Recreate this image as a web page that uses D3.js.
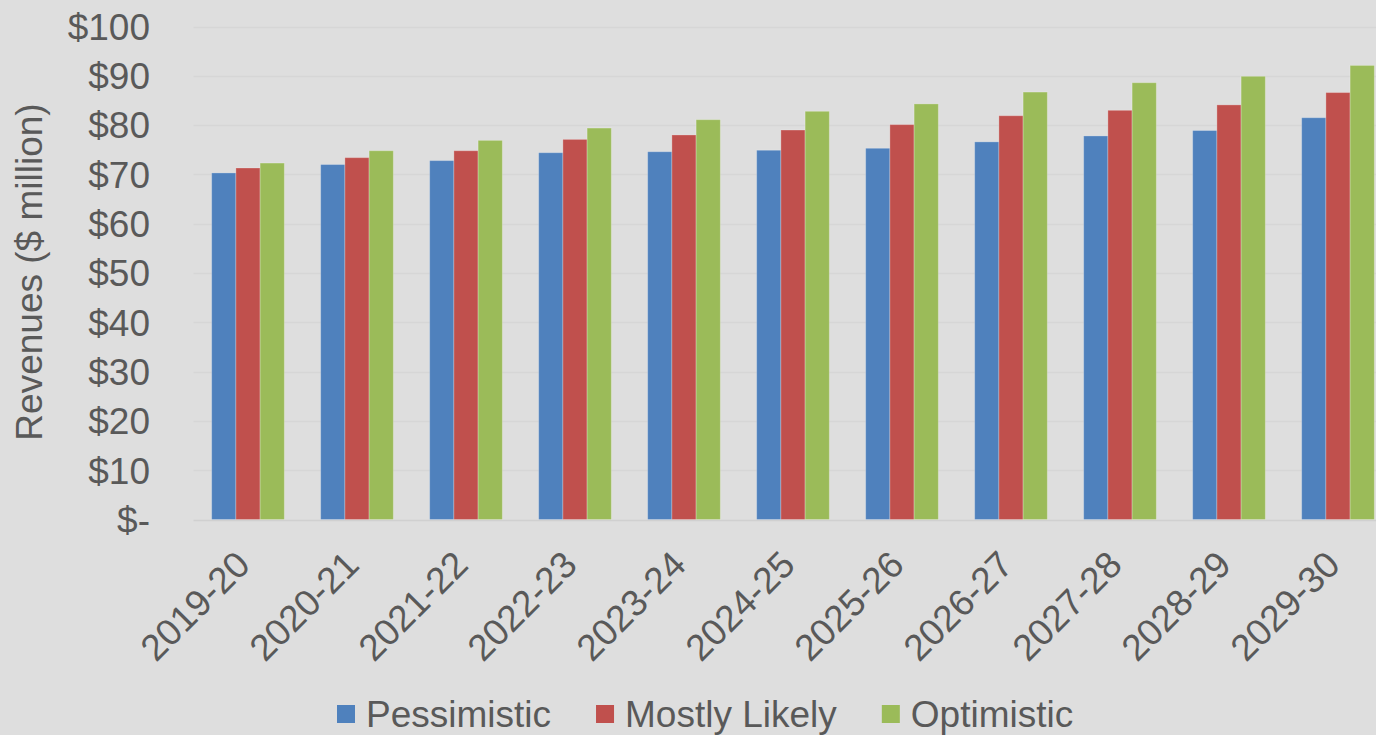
<!DOCTYPE html>
<html>
<head>
<meta charset="utf-8">
<script src="https://cdn.jsdelivr.net/npm/d3@7"></script>
<style>
  html, body { margin: 0; padding: 0; background: #dedede; overflow: hidden; }
  svg { display: block; }
</style>
</head>
<body>
<div id="chart"></div>
<script>
const years = ["2019-20", "2020-21", "2021-22", "2022-23", "2023-24", "2024-25",
               "2025-26", "2026-27", "2027-28", "2028-29", "2029-30"];
const seriesNames = ["Pessimistic", "Mostly Likely", "Optimistic"];
const pessimistic = [70.3, 72.0, 72.8, 74.4, 74.6, 74.9, 75.3, 76.6, 77.8, 78.9, 81.5];
const mostlyLikely = [71.3, 73.4, 74.8, 77.1, 78.0, 79.0, 80.1, 81.9, 83.0, 84.1, 86.6];
const optimistic = [72.3, 74.8, 76.9, 79.4, 81.1, 82.8, 84.3, 86.7, 88.6, 89.9, 92.1];
const yTicks = [0, 10, 20, 30, 40, 50, 60, 70, 80, 90, 100];
const colors = ["#4f81bd", "#c0504d", "#9bbb59"];

const width = 1376, height = 735;
const fontFamily = "'Liberation Sans', Arial, sans-serif";
const textColor = "#595959";
const fontSize = 37;

const seriesValues = [pessimistic, mostlyLikely, optimistic];
const rows = years.map((y, i) => ({
  year: y,
  values: seriesNames.map((s, j) => ({ key: s, value: seriesValues[j][i] }))
}));

const svg = d3.select("#chart").append("svg")
  .attr("width", width)
  .attr("height", height);

svg.append("rect").attr("width", width).attr("height", height).attr("fill", "#dedede");

// plot area runs a bit past the right edge, like the original
const plot = { left: 193.5, right: 1392.5, top: 26.5, bottom: 519.5 };

const x = d3.scaleBand()
  .domain(years)
  .range([plot.left, plot.right])
  .paddingInner(1 / 3)
  .paddingOuter(1 / 6);

const xSub = d3.scaleBand()
  .domain(seriesNames)
  .range([0, x.bandwidth()]);

const y = d3.scaleLinear()
  .domain([0, 100])
  .range([plot.bottom, plot.top]);

// gridlines
svg.append("g")
  .selectAll("line")
  .data(yTicks)
  .join("line")
  .attr("x1", plot.left)
  .attr("x2", plot.right)
  .attr("y1", d => Math.round(y(d)) + 0.5)
  .attr("y2", d => Math.round(y(d)) + 0.5)
  .attr("stroke", d => d === 0 ? "#d0d0d0" : "#d6d6d6")
  .attr("stroke-width", 1.5);

// bars
const groups = svg.append("g")
  .selectAll("g")
  .data(rows)
  .join("g")
  .attr("transform", d => `translate(${x(d.year)},0)`);

groups.selectAll("rect")
  .data(d => d.values)
  .join("rect")
  .attr("x", d => xSub(d.key))
  .attr("y", d => y(d.value))
  .attr("width", xSub.bandwidth())
  .attr("height", d => y(0) - y(d.value))
  .attr("fill", (d, i) => colors[i])
  .attr("stroke", "rgba(255,255,255,0.25)")
  .attr("stroke-width", 1);

// y axis labels
svg.append("g")
  .selectAll("text")
  .data(yTicks)
  .join("text")
  .attr("x", 150)
  .attr("y", d => y(d))
  .attr("dy", "0.36em")
  .attr("text-anchor", "end")
  .attr("font-family", fontFamily)
  .attr("font-size", fontSize)
  .attr("fill", textColor)
  .text(d => d === 0 ? "$-" : "$" + d);

// y axis title
svg.append("text")
  .attr("transform", "translate(42,272) rotate(-90)")
  .attr("text-anchor", "middle")
  .attr("font-family", fontFamily)
  .attr("font-size", fontSize)
  .attr("fill", textColor)
  .text("Revenues ($ million)");

// x axis labels, rotated
svg.append("g")
  .selectAll("text")
  .data(years)
  .join("text")
  .attr("transform", d => `translate(${x(d) + x.bandwidth() / 2 + 4},567) rotate(-45)`)
  .attr("text-anchor", "end")
  .attr("font-family", fontFamily)
  .attr("font-size", fontSize)
  .attr("fill", textColor)
  .text(d => d);

// legend
const legend = svg.append("g");
let lx = 337;
seriesNames.forEach((name, i) => {
  legend.append("rect")
    .attr("x", lx)
    .attr("y", 705)
    .attr("width", 18)
    .attr("height", 18)
    .attr("fill", colors[i]);
  const t = legend.append("text")
    .attr("x", lx + 29)
    .attr("y", 727)
    .attr("font-family", fontFamily)
    .attr("font-size", fontSize)
    .attr("fill", textColor)
    .text(name);
  lx += 29 + t.node().getComputedTextLength() + 45;
});
</script>
</body>
</html>
